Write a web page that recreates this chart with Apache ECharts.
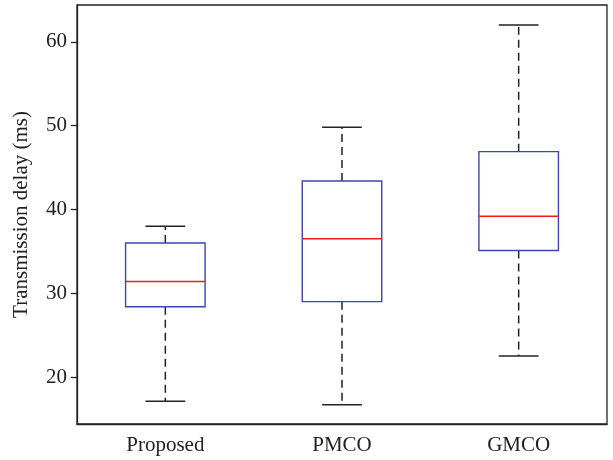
<!DOCTYPE html>
<html>
<head>
<meta charset="utf-8">
<script src="https://cdn.jsdelivr.net/npm/echarts@6/dist/echarts.min.js"></script>
<style>
  html, body { margin: 0; padding: 0; background: #fff; }
  #main { width: 613px; height: 460px; }
</style>
</head>
<body>
<div id="main"></div>
<script>
// box plot stats
const categories = ['Proposed', 'PMCO', 'GMCO'];
const whiskerLow = [17.1, 16.7, 22.5];
const q1 = [28.4, 29.0, 35.1];
const median = [31.4, 36.5, 39.2];
const q3 = [36.0, 43.4, 46.9];
const whiskerHigh = [38.0, 49.8, 62.0];
const yTicks = [20, 30, 40, 50, 60];

const boxData = categories.map((c, i) =>
  [i, whiskerLow[i], q1[i], median[i], q3[i], whiskerHigh[i]]);

const fontFam = 'Liberation Serif, DejaVu Serif, serif';

function renderBox(params, api) {
  const x = api.value(0);
  const pLow = api.coord([x, api.value(1)]);
  const pQ1 = api.coord([x, api.value(2)]);
  const pMed = api.coord([x, api.value(3)]);
  const pQ3 = api.coord([x, api.value(4)]);
  const pHigh = api.coord([x, api.value(5)]);
  const bw = api.size([1, 0])[0] * 0.45;
  const cx = pMed[0];
  const capW = bw / 2;
  const dash = { stroke: '#222', lineWidth: 1.5, lineDash: [8, 5] };
  const solid = { stroke: '#222', lineWidth: 1.5 };
  return {
    type: 'group',
    children: [
      { type: 'line', shape: { x1: cx, y1: pQ1[1], x2: cx, y2: pLow[1] }, style: dash },
      { type: 'line', shape: { x1: cx, y1: pQ3[1], x2: cx, y2: pHigh[1] }, style: dash },
      { type: 'line', shape: { x1: cx - capW / 2, y1: pLow[1], x2: cx + capW / 2, y2: pLow[1] }, style: solid },
      { type: 'line', shape: { x1: cx - capW / 2, y1: pHigh[1], x2: cx + capW / 2, y2: pHigh[1] }, style: solid },
      { type: 'rect', shape: { x: cx - bw / 2, y: pQ3[1], width: bw, height: pQ1[1] - pQ3[1] },
        style: { fill: 'none', stroke: '#3d45b0', lineWidth: 1.4 } },
      { type: 'line', shape: { x1: cx - bw / 2, y1: pMed[1], x2: cx + bw / 2, y2: pMed[1] },
        style: { stroke: '#ee1c1c', lineWidth: 1.4 } }
    ]
  };
}

const chart = echarts.init(document.getElementById('main'));
chart.setOption({
  animation: false,
  grid: {
    left: 77, right: 6, top: 5, bottom: 36,
    show: true, borderColor: '#222', borderWidth: 1.3, backgroundColor: 'transparent'
  },
  xAxis: {
    type: 'category',
    data: categories,
    boundaryGap: true,
    axisLine: { lineStyle: { color: '#222', width: 1.3 } },
    axisTick: { alignWithLabel: true, length: 6, lineStyle: { color: '#222', width: 1.3 } },
    axisLabel: { color: '#222', fontFamily: fontFam, fontSize: 21, margin: 11 },
    splitLine: { show: false }
  },
  yAxis: {
    type: 'value',
    min: 14.4,
    max: 64.4,
    name: 'Transmission delay (ms)',
    nameLocation: 'middle',
    nameGap: 45,
    nameTextStyle: { color: '#222', fontFamily: fontFam, fontSize: 21 },
    axisLine: { show: true, lineStyle: { color: '#222', width: 1.3 } },
    axisTick: { show: true, length: 6, customValues: yTicks, lineStyle: { color: '#222', width: 1.3 } },
    axisLabel: { color: '#222', fontFamily: fontFam, fontSize: 21, margin: 10, customValues: yTicks },
    splitLine: { show: false }
  },
  series: [{
    type: 'custom',
    renderItem: renderBox,
    data: boxData,
    encode: { x: 0, y: [1, 2, 3, 4, 5] }
  }]
});
</script>
</body>
</html>
